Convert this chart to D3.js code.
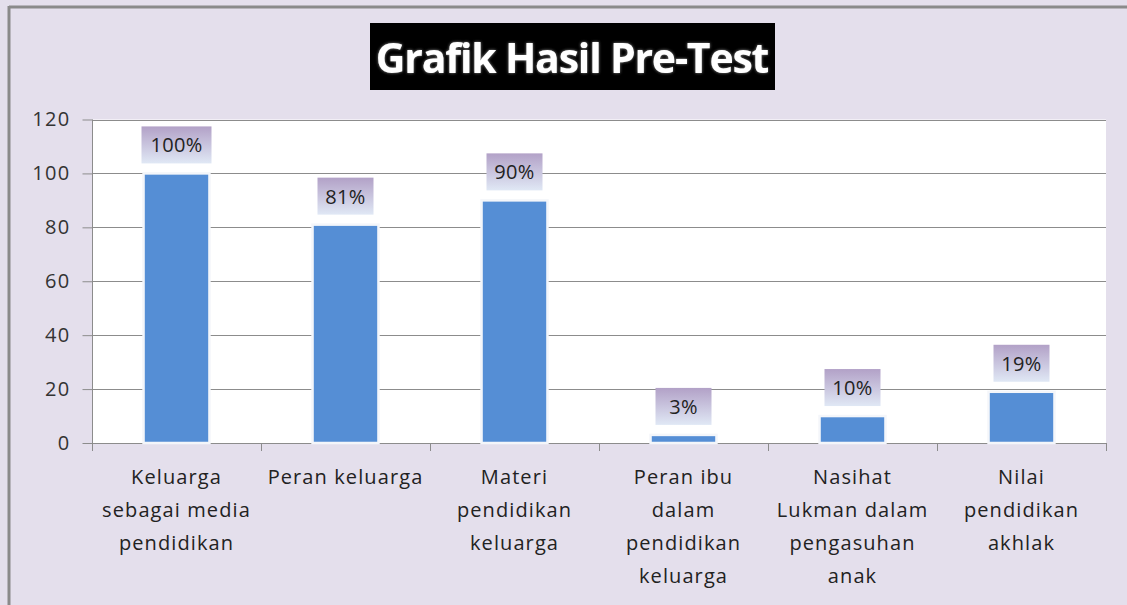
<!DOCTYPE html>
<html><head><meta charset="utf-8">
<script src="https://cdn.jsdelivr.net/npm/d3@7"></script>
<style>body{margin:0;background:#fff}</style></head>
<body><svg id="c" width="1127" height="605"></svg>
<script>
const categories = [
  ["Keluarga","sebagai media","pendidikan"],
  ["Peran keluarga"],
  ["Materi","pendidikan","keluarga"],
  ["Peran ibu","dalam","pendidikan","keluarga"],
  ["Nasihat","Lukman dalam","pengasuhan","anak"],
  ["Nilai","pendidikan","akhlak"]
];
const values = [100, 81, 90, 3, 10, 19];
const valueLabels = ["100%","81%","90%","3%","10%","19%"];
const yTicks = [0,20,40,60,80,100,120];
const title = "Grafik Hasil Pre-Test";

(function(){
const svg = d3.select("#c");
const font2 = "'Open Sans', sans-serif";
const defs = svg.append("defs");
const g1 = defs.append("linearGradient").attr("id","lblg").attr("x1",0).attr("x2",0).attr("y1",0).attr("y2",1);
g1.append("stop").attr("offset","0%").attr("stop-color","#B2A1C7");
g1.append("stop").attr("offset","100%").attr("stop-color","#E0E8F5");
const glow = defs.append("filter").attr("id","glow").attr("x","-10%").attr("y","-20%").attr("width","120%").attr("height","140%");
glow.append("feGaussianBlur").attr("in","SourceAlpha").attr("stdDeviation",1.5).attr("result","b");
glow.append("feFlood").attr("flood-color","#888").attr("result","f");
glow.append("feComposite").attr("in","f").attr("in2","b").attr("operator","in").attr("result","s");
const fm = glow.append("feMerge"); fm.append("feMergeNode").attr("in","s"); fm.append("feMergeNode").attr("in","SourceGraphic");

svg.append("rect").attr("x",0).attr("y",0).attr("width",1127).attr("height",605).attr("fill","#E4DFEC");
svg.append("line").attr("x1",9).attr("x2",1127).attr("y1",7).attr("y2",7).attr("stroke","#8A8A8A").attr("stroke-width",3);
svg.append("line").attr("x1",9).attr("x2",9).attr("y1",6).attr("y2",605).attr("stroke","#8A8A8A").attr("stroke-width",3);

const pl=92, pr=1106, pt=119.5, pb=443;
const x = d3.scaleBand().domain(d3.range(values.length)).range([pl,pr]).paddingInner(0.61).paddingOuter(0.305);
const xb = d3.scaleBand().domain(d3.range(values.length)).range([pl,pr]);
const y = d3.scaleLinear().domain([0,120]).range([pb,pt]);

svg.append("rect").attr("x",pl).attr("y",pt).attr("width",pr-pl).attr("height",pb-pt).attr("fill","#fff");

svg.append("g").selectAll("line").data(yTicks.filter(d=>d>0)).join("line")
  .attr("x1",pl).attr("x2",pr).attr("y1",d=>Math.round(y(d))+0.5).attr("y2",d=>Math.round(y(d))+0.5)
  .attr("stroke","#8C8C8C").attr("stroke-width",1);

const ya = svg.append("g").attr("transform",`translate(${pl+0.5},0)`)
  .call(d3.axisLeft(y).tickValues(yTicks).tickSize(10).tickPadding(12));
ya.select(".domain").attr("stroke","#8C8C8C").attr("d",`M0,${pt}V${pb}`);
ya.selectAll(".tick line").attr("stroke","#8C8C8C");
ya.selectAll("text").attr("font-family",font2).attr("font-size",20).attr("letter-spacing",1.3).attr("fill","#333");

svg.append("line").attr("x1",pl).attr("x2",pr).attr("y1",pb+0.5).attr("y2",pb+0.5).attr("stroke","#8C8C8C");
svg.append("g").selectAll("line").data(d3.range(values.length+1)).join("line")
  .attr("x1",i=>Math.round(pl+i*xb.step())+0.5).attr("x2",i=>Math.round(pl+i*xb.step())+0.5)
  .attr("y1",pb).attr("y2",pb+8).attr("stroke","#8C8C8C");

svg.append("g").selectAll("rect").data(values).join("rect")
  .attr("x",(d,i)=>x(i)).attr("width",x.bandwidth())
  .attr("y",d=>y(d)).attr("height",d=>pb-y(d))
  .attr("fill","#558ED5").attr("stroke","#F4F6FA").attr("stroke-width",2.5);

const lg = svg.append("g").selectAll("g").data(values).join("g")
  .attr("transform",(d,i)=>`translate(${x(i)+x.bandwidth()/2},${y(d)-10})`);
lg.append("rect").attr("x",(d,i)=>valueLabels[i].length>3?-35:-28).attr("width",(d,i)=>valueLabels[i].length>3?70:56)
  .attr("y",-37).attr("height",37).attr("fill","url(#lblg)");
lg.append("text").attr("y",-11).attr("text-anchor","middle").attr("font-family",font2).attr("font-size",20).attr("letter-spacing",0.3).attr("fill","#222")
  .text((d,i)=>valueLabels[i]);

const cl = svg.append("g").selectAll("text").data(categories).join("text")
  .attr("text-anchor","middle").attr("font-family",font2).attr("font-size",20).attr("letter-spacing",1.1).attr("fill","#222");
cl.each(function(lines,i){
  d3.select(this).selectAll("tspan").data(lines).join("tspan")
    .attr("x",xb(i)+xb.bandwidth()/2).attr("y",(l,j)=>484+j*33).text(l=>l);
});

svg.append("rect").attr("x",370).attr("y",23).attr("width",405).attr("height",67).attr("fill","#000");
svg.append("text").attr("x",572).attr("y",73).attr("text-anchor","middle").attr("font-family",font2)
  .attr("font-weight","bold").attr("font-size",41).attr("letter-spacing",-1.2).attr("fill","#fff").attr("filter","url(#glow)").text(title);
})();
</script></body></html>
